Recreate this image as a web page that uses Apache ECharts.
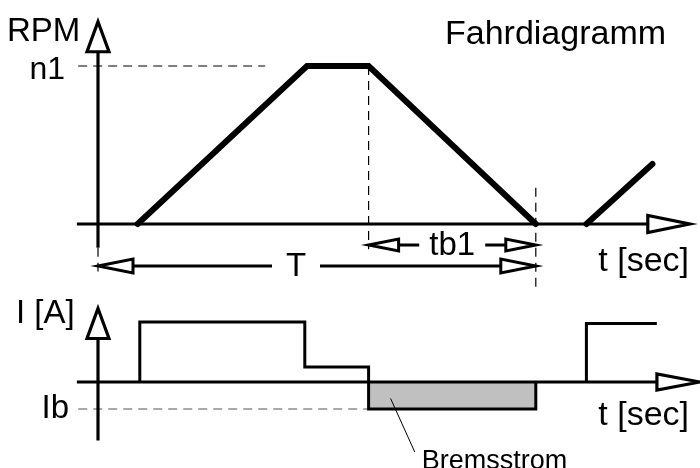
<!DOCTYPE html>
<html>
<head>
<meta charset="utf-8">
<title>Fahrdiagramm</title>
<script src="https://cdn.jsdelivr.net/npm/echarts@6/dist/echarts.min.js"></script>
<style>
    html, body { margin: 0; padding: 0; background: #fff; }
    #main { width: 700px; height: 468px; }
</style>
</head>
<body>
<div id="main"></div>
<script type="text/javascript">
// Drehzahl oben (relative Einheiten), Zeit in s
var n1 = 100;
var rpmTime = [0.9, 4.75, 6.15, 9.95];
var rpmValue = [0, 100, 100, 0];
var rpmNextTime = [11.1, 12.6];
var rpmNextValue = [0, 38];

// Strom unten (A)
var Ib = -18;
var curTime = [0.95, 0.95, 4.7, 4.7, 6.15, 6.15, 9.95, 9.95];
var curValue = [0, 40, 40, 10, 10, -18, -18, 0];
var curNextTime = [11.1, 11.1, 12.7];
var curNextValue = [0, 39, 39];

// Bremsbeginn / Stillstand, Zyklus T
var tBrake = 6.15, tStop = 9.95;
var tCycleLabel = 4.5;

// Achsenenden (Datenwerte)
var rpmAxisX = [-0.48, 13.45], rpmAxisY = [-15, 128];
var curAxisX = [-0.48, 13.68], curAxisY = [-39, 49];

var FONT = '"Liberation Sans", Arial, sans-serif';

function zip(a, b) {
    return a.map(function (v, i) { return [v, b[i]]; });
}

// Pfeil: Linie + offene Spitze (Pixel)
function arrow(p0, p1, len, half, lw) {
    var dx = p1[0] - p0[0], dy = p1[1] - p0[1];
    var d = Math.sqrt(dx * dx + dy * dy), ux = dx / d, uy = dy / d;
    var bx = p1[0] - ux * len, by = p1[1] - uy * len;
    return [
        {type: 'line', shape: {x1: p0[0], y1: p0[1], x2: bx, y2: by}, style: {stroke: '#000', lineWidth: lw}},
        {type: 'polygon', shape: {points: [[p1[0], p1[1]], [bx - uy * half, by + ux * half], [bx + uy * half, by - ux * half]]},
            style: {fill: '#fff', stroke: '#000', lineWidth: lw, lineJoin: 'miter'}}
    ];
}

function label(text, x, y, size, align) {
    return {type: 'text', style: {text: text, x: x, y: y, font: size + 'px ' + FONT, fill: '#000',
        align: align, verticalAlign: 'middle', textAlign: align, textVerticalAlign: 'middle'}};
}

function segment(params, api) {
    var a = api.coord([api.value(0), api.value(1)]);
    var b = api.coord([api.value(2), api.value(3)]);
    return {a: a, b: b};
}

var chart = echarts.init(document.getElementById('main'));

var xAxisCommon = {type: 'value', min: -2, max: 13.5, show: false};

var option = {
    animation: false,
    backgroundColor: '#fff',
    grid: [
        {left: 10, right: 8, top: 2.8, bottom: 165},
        {left: 10, right: 8, top: 292, bottom: 2}
    ],
    xAxis: [
        Object.assign({gridIndex: 0}, xAxisCommon),
        Object.assign({gridIndex: 1}, xAxisCommon)
    ],
    yAxis: [
        {gridIndex: 0, type: 'value', min: -50, max: 140, show: false},
        {gridIndex: 1, type: 'value', min: -56, max: 60, show: false}
    ],
    graphic: [
        {type: 'text', x: 7, y: 32, style: {text: 'RPM', font: '33px ' + FONT, fill: '#000', textVerticalAlign: 'middle'}},
        {type: 'text', x: 445, y: 35, style: {text: 'Fahrdiagramm', font: '34px ' + FONT, fill: '#000', textVerticalAlign: 'middle'}},
        {type: 'text', x: 689, y: 262, style: {text: 't [sec]', font: '34px ' + FONT, fill: '#000', textAlign: 'right', textVerticalAlign: 'middle'}},
        {type: 'text', x: 16, y: 314, style: {text: 'I [A]', font: '33px ' + FONT, fill: '#000', textVerticalAlign: 'middle'}},
        {type: 'text', x: 689, y: 416, style: {text: 't [sec]', font: '34px ' + FONT, fill: '#000', textAlign: 'right', textVerticalAlign: 'middle'}}
    ],
    series: [
        // Bremsstrom-Fläche
        {
            type: 'custom', xAxisIndex: 1, yAxisIndex: 1, silent: true,
            data: [[tBrake, 0, tStop, Ib]],
            renderItem: function (params, api) {
                var s = segment(params, api);
                return {type: 'rect', shape: {x: s.a[0], y: s.a[1], width: s.b[0] - s.a[0], height: s.b[1] - s.a[1]},
                    style: {fill: '#c0c0c0'}};
            }
        },
        // Hilfslinien gestrichelt, oben
        {
            type: 'custom', xAxisIndex: 0, yAxisIndex: 0, silent: true,
            data: [[-0.45, n1, 3.8, n1], [tBrake, n1, tBrake, -16], [tStop, 23, tStop, -42], [0, -15, 0, -30]],
            renderItem: function (params, api) {
                var s = segment(params, api);
                return {type: 'line', shape: {x1: s.a[0], y1: s.a[1], x2: s.b[0], y2: s.b[1]},
                    style: {stroke: '#000', lineWidth: 1.2, lineDash: [9, 6]}};
            }
        },
        // Hilfslinie Ib
        {
            type: 'custom', xAxisIndex: 1, yAxisIndex: 1, silent: true,
            data: [[-0.45, Ib, tBrake, Ib]],
            renderItem: function (params, api) {
                var s = segment(params, api);
                return {type: 'line', shape: {x1: s.a[0], y1: s.a[1], x2: s.b[0], y2: s.b[1]},
                    style: {stroke: '#555', lineWidth: 1.2, lineDash: [9, 6]}};
            }
        },
        // Achsen oben
        {
            type: 'custom', xAxisIndex: 0, yAxisIndex: 0, silent: true,
            data: [[rpmAxisX[0], 0, rpmAxisX[1], 0, 42, 8.5], [0, rpmAxisY[0], 0, rpmAxisY[1], 30, 11]],
            renderItem: function (params, api) {
                var s = segment(params, api);
                return {type: 'group', children: arrow(s.a, s.b, api.value(4), api.value(5), 3.2)};
            }
        },
        // Achsen unten
        {
            type: 'custom', xAxisIndex: 1, yAxisIndex: 1, silent: true,
            data: [[curAxisX[0], 0, curAxisX[1], 0, 43, 8], [0, curAxisY[0], 0, curAxisY[1], 30, 11]],
            renderItem: function (params, api) {
                var s = segment(params, api);
                return {type: 'group', children: arrow(s.a, s.b, api.value(4), api.value(5), 3.2)};
            }
        },
        // Maßpfeile tb1 und T
        {
            type: 'custom', xAxisIndex: 0, yAxisIndex: 0, silent: true,
            data: [
                [tBrake, tStop, -13.3, (tBrake + tStop) / 2, 33, 30, 6],
                [0, tStop, -26.6, tCycleLabel, 24, 35, 7]
            ],
            renderItem: function (params, api) {
                var y = api.value(2);
                var a = api.coord([api.value(0), y]);
                var b = api.coord([api.value(1), y]);
                var c = api.coord([api.value(3), y]);
                var gap = api.value(4), len = api.value(5), half = api.value(6);
                var text = params.dataIndex === 0 ? 'tb1' : 'T';
                var kids = arrow([c[0] - gap, c[1]], a, len, half, 3)
                    .concat(arrow([c[0] + gap, c[1]], b, len, half, 3));
                kids.push(label(text, c[0], c[1] + 1, 33, 'center'));
                return {type: 'group', children: kids};
            }
        },
        // Beschriftung n1
        {
            type: 'custom', xAxisIndex: 0, yAxisIndex: 0, silent: true,
            data: [[0, n1]],
            renderItem: function (params, api) {
                var p = api.coord([api.value(0), api.value(1)]);
                return label('n1', p[0] - 33, p[1] + 4, 32, 'right');
            }
        },
        // Beschriftung Ib
        {
            type: 'custom', xAxisIndex: 1, yAxisIndex: 1, silent: true,
            data: [[0, Ib]],
            renderItem: function (params, api) {
                var p = api.coord([api.value(0), api.value(1)]);
                return label('Ib', p[0] - 29, p[1], 33, 'right');
            }
        },
        // Hinweislinie Bremsstrom
        {
            type: 'custom', xAxisIndex: 1, yAxisIndex: 1, silent: true,
            data: [[6.65, -11, 7.2, -46.7]],
            renderItem: function (params, api) {
                var s = segment(params, api);
                return {type: 'group', children: [
                    {type: 'line', shape: {x1: s.a[0], y1: s.a[1], x2: s.b[0], y2: s.b[1]}, style: {stroke: '#000', lineWidth: 1}},
                    label('Bremsstrom', s.b[0] + 7, s.b[1] + 9, 27, 'left')
                ]};
            }
        },
        // Drehzahlverlauf
        {
            type: 'line', xAxisIndex: 0, yAxisIndex: 0, clip: false, silent: true, showSymbol: false,
            data: zip(rpmTime, rpmValue),
            lineStyle: {color: '#000', width: 6, cap: 'round', join: 'miter'}
        },
        {
            type: 'line', xAxisIndex: 0, yAxisIndex: 0, clip: false, silent: true, showSymbol: false,
            data: zip(rpmNextTime, rpmNextValue),
            lineStyle: {color: '#000', width: 6, cap: 'round'}
        },
        // Stromverlauf
        {
            type: 'line', xAxisIndex: 1, yAxisIndex: 1, clip: false, silent: true, showSymbol: false,
            data: zip(curTime, curValue),
            lineStyle: {color: '#000', width: 3, join: 'miter'}
        },
        {
            type: 'line', xAxisIndex: 1, yAxisIndex: 1, clip: false, silent: true, showSymbol: false,
            data: zip(curNextTime, curNextValue),
            lineStyle: {color: '#000', width: 3, join: 'miter'}
        }
    ]
};

chart.setOption(option);
</script>
</body>
</html>
